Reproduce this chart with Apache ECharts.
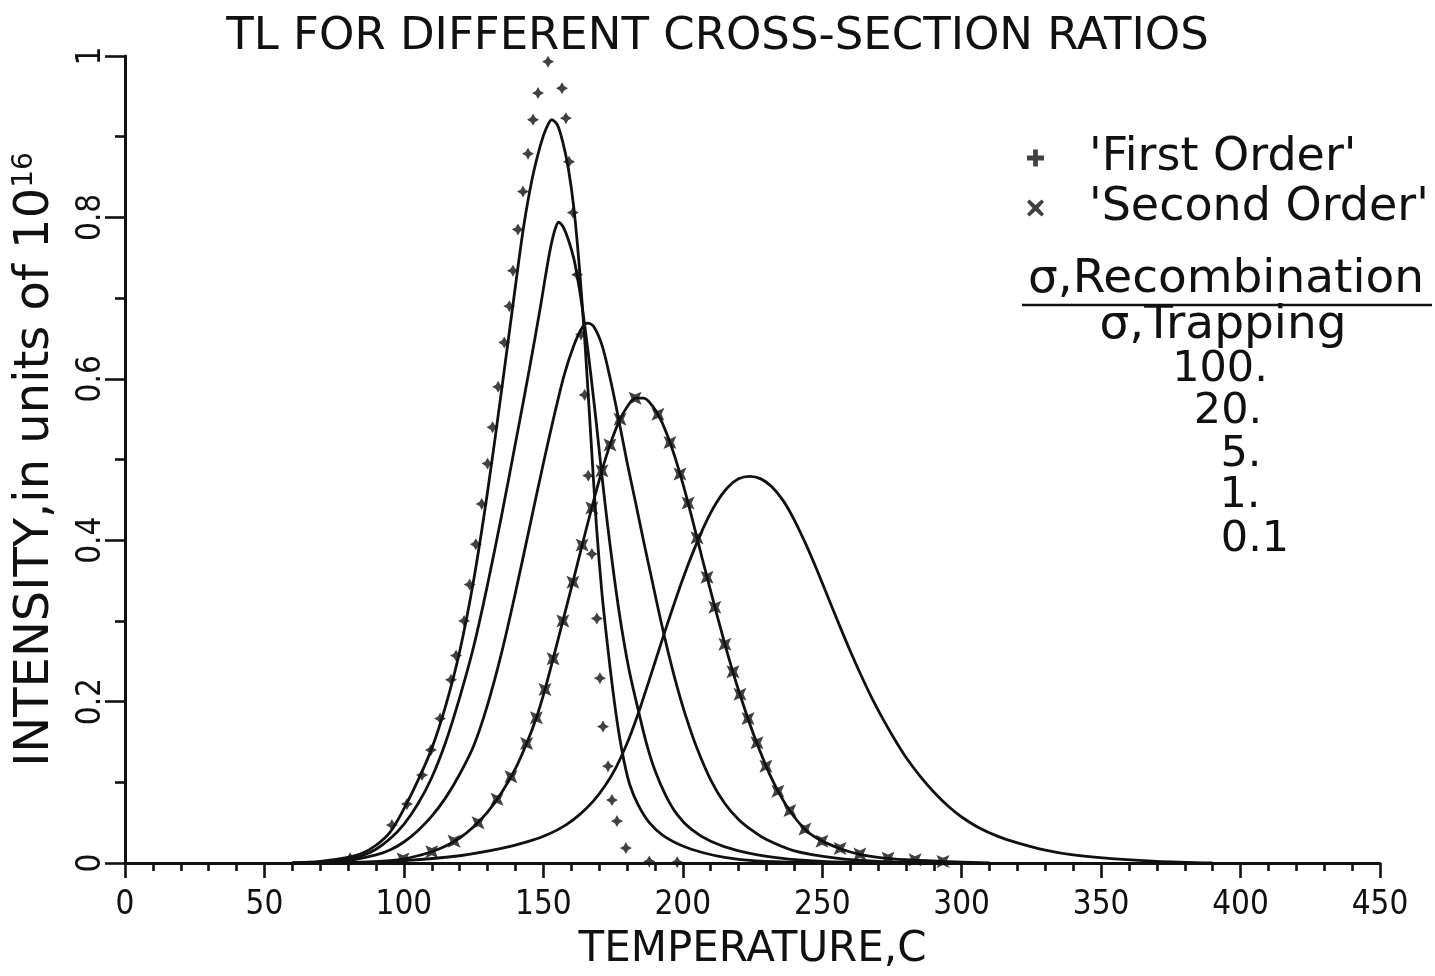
<!DOCTYPE html>
<html>
<head>
<meta charset="utf-8">
<script src="https://cdn.jsdelivr.net/npm/echarts@6/dist/echarts.min.js"></script>
<style>
  html, body { margin: 0; padding: 0; background: #ffffff; }
  #chart { width: 1435px; height: 976px; }
</style>
</head>
<body>
<div id="chart"></div>
<script>
// Thermoluminescence glow curves: [temperature °C, intensity in units of 1e16]
const ratio100 = [[60,0],[70,0.002],[80,0.007],[85,0.012],[90,0.022],[95,0.038],[100,0.067],[105,0.102],[110,0.142],[115,0.195],[120,0.262],[125,0.35],[130,0.46],[135,0.585],[140,0.715],[143,0.79],[146,0.848],[149,0.89],[151,0.91],[153,0.921],[155,0.915],[157,0.893],[159,0.86],[161,0.81],[163,0.735],[165,0.64],[167,0.53],[169,0.42],[171,0.335],[173,0.27],[175,0.212],[177,0.163],[179,0.125],[181,0.097],[184,0.072],[188,0.05],[193,0.034],[200,0.021],[207,0.013],[215,0.007],[225,0.003],[240,0.001],[260,0]];
const ratio20 = [[60,0],[70,0.001],[80,0.005],[85,0.009],[90,0.017],[95,0.03],[100,0.048],[105,0.073],[110,0.106],[115,0.15],[120,0.205],[125,0.268],[130,0.345],[135,0.43],[140,0.52],[145,0.612],[149,0.69],[152,0.752],[154,0.783],[155.5,0.794],[157,0.789],[159,0.772],[161,0.748],[163,0.71],[165,0.662],[167,0.606],[169,0.545],[171,0.48],[173,0.42],[175,0.365],[177,0.315],[179,0.272],[181,0.235],[184,0.19],[187,0.148],[190,0.115],[194,0.083],[198,0.06],[203,0.042],[210,0.027],[220,0.015],[235,0.006],[250,0.002],[270,0]];
const ratio5 = [[60,0],[80,0.003],[90,0.01],[95,0.016],[100,0.026],[105,0.04],[110,0.058],[115,0.081],[120,0.11],[125,0.145],[130,0.196],[135,0.26],[140,0.335],[145,0.415],[150,0.495],[154,0.556],[157.5,0.605],[161,0.642],[164,0.664],[166,0.669],[168,0.665],[171,0.642],[174,0.6],[177,0.55],[180,0.497],[183,0.448],[186,0.398],[189,0.35],[192,0.302],[195,0.258],[198,0.218],[201,0.183],[205,0.143],[210,0.103],[215,0.074],[220,0.054],[225,0.04],[230,0.029],[240,0.015],[255,0.006],[270,0.002],[290,0]];
const ratio1 = [[70,0],[85,0.001],[95,0.003],[100,0.005],[105,0.009],[110,0.014],[115,0.021],[120,0.031],[125,0.045],[130,0.063],[135,0.087],[140,0.117],[144,0.148],[147.5,0.18],[150.5,0.214],[153.5,0.253],[157,0.3],[160.5,0.347],[164,0.395],[167.5,0.442],[171,0.486],[174,0.519],[177,0.546],[180,0.565],[183,0.576],[186,0.576],[189,0.567],[192,0.55],[195,0.525],[198,0.494],[201,0.458],[204,0.418],[207,0.377],[210,0.337],[213,0.298],[216,0.26],[219,0.225],[222,0.193],[225,0.163],[228,0.136],[231,0.111],[234,0.09],[237,0.072],[240,0.057],[244,0.041],[248,0.031],[252,0.024],[257,0.017],[263,0.011],[270,0.007],[280,0.004],[293,0.002],[310,0]];
const ratio01 = [[80,0],[100,0.003],[120,0.009],[135,0.018],[145,0.027],[152,0.036],[158,0.047],[163,0.06],[168,0.077],[172,0.095],[176,0.118],[180,0.148],[184,0.185],[188,0.227],[192,0.27],[196,0.312],[200,0.352],[204,0.388],[208,0.42],[212,0.446],[216,0.465],[220,0.476],[224,0.479],[228,0.476],[232,0.466],[236,0.449],[240,0.425],[244,0.396],[248,0.364],[252,0.33],[256,0.296],[260,0.263],[264,0.232],[268,0.203],[272,0.177],[276,0.153],[280,0.131],[285,0.108],[290,0.088],[295,0.071],[300,0.057],[306,0.044],[313,0.033],[320,0.025],[330,0.016],[340,0.01],[355,0.005],[370,0.002],[390,0]];

// Analytic first- and second-order kinetics, plotted as symbols
const firstOrder = [[80.7,0.006],[95.7,0.047],[101.1,0.073],[106.5,0.109],[109.7,0.14],[113,0.179],[116.9,0.227],[118.7,0.257],[121.6,0.3],[123.6,0.345],[125.8,0.395],[127.9,0.445],[130,0.495],[131.8,0.54],[133.8,0.59],[136,0.645],[137.8,0.69],[139.1,0.734],[140.9,0.785],[142.7,0.832],[144.5,0.879],[146.3,0.921],[148.1,0.954],[151.7,0.993],[156.7,0.96],[158.1,0.923],[159.2,0.869],[160.6,0.806],[162.1,0.729],[163.5,0.655],[164.8,0.58],[166.1,0.48],[167.4,0.383],[169.2,0.303],[170.3,0.229],[171.4,0.169],[173.2,0.12],[174.6,0.078],[176.4,0.052],[179.6,0.0185],[188,0.002],[198,0.001]];
const secondOrder = [[99.7,0.005],[110,0.014],[118,0.027],[126.6,0.05],[133.4,0.079],[138.4,0.107],[144,0.148],[147.5,0.18],[150.6,0.215],[153.5,0.253],[157,0.3],[160.6,0.348],[163.9,0.394],[167.4,0.44],[171,0.486],[173.9,0.518],[177.5,0.55],[182.9,0.576],[191.1,0.556],[195.4,0.521],[199,0.482],[201.9,0.446],[205.1,0.403],[208.7,0.354],[211.5,0.317],[215.1,0.271],[218,0.237],[220.5,0.209],[223.4,0.179],[226.6,0.149],[229.8,0.12],[234.1,0.089],[238.4,0.065],[243.8,0.042],[249.9,0.027],[256.4,0.018],[263.5,0.011],[273.6,0.006],[283.3,0.004],[293.3,0.002]];

const ratioLabels = ['100.', '20.', '5.', '1.', '0.1'];

const INK = '#111111';
const FONT = "'DejaVu Sans', sans-serif";
const COND = "'DejaVu Sans Condensed', 'DejaVu Sans', sans-serif";

const PLUS_ICON = 'path://M3.6,0H6.4V3.6H10V6.4H6.4V10H3.6V6.4H0V3.6H3.6Z';
const CROSS_ICON = 'path://M1.4,0L5,3.2L8.6,0L10,1.4L6.8,5L10,8.6L8.6,10L5,6.8L1.4,10L0,8.6L3.2,5L0,1.4Z';
const STAR4 = 'path://M5,0L6.8,3.2L10,5L6.8,6.8L5,10L3.2,6.8L0,5L3.2,3.2Z';
const XSTAR = 'path://M0,0L5,2.2L10,0L7.8,5L10,10L5,7.8L0,10L2.2,5Z';

function curve(name, data) {
  return {
    name: name, type: 'line', data: data, smooth: 0.3,
    showSymbol: false, symbol: 'none',
    lineStyle: { color: INK, width: 2.8 }, z: 2
  };
}

const chart = echarts.init(document.getElementById('chart'));

// σ ratio key, drawn as a fraction with the ratios listed under it
const fractionRows = [
  { text: 'σ,Recombination', x: 1226, y: 280 },
  { text: 'σ,Trapping', x: 1223, y: 326 }
];
const valueY = [370, 412, 455, 496, 540];
const valueX = [1220, 1228, 1241, 1240, 1255];

const graphics = fractionRows.map(b => ({
  type: 'text', x: b.x, y: b.y,
  style: { text: b.text, fill: INK, font: '47px ' + FONT, textAlign: 'center', textVerticalAlign: 'middle' }
})).concat(ratioLabels.map((t, i) => ({
  type: 'text', x: valueX[i], y: valueY[i],
  style: { text: t, fill: INK, font: '43px ' + FONT, textAlign: 'center', textVerticalAlign: 'middle' }
}))).concat([{
  type: 'line', shape: { x1: 1022, y1: 305, x2: 1432, y2: 305 },
  style: { stroke: INK, lineWidth: 2.4 }
}]);

chart.setOption({
  animation: false,
  backgroundColor: '#ffffff',
  title: {
    text: 'TL FOR DIFFERENT CROSS-SECTION RATIOS',
    left: 'center', top: 10,
    textStyle: { color: INK, fontFamily: FONT, fontSize: 45, fontWeight: 'normal' }
  },
  legend: {
    orient: 'vertical', left: 1022, top: 130, itemGap: 4,
    itemWidth: 17, itemHeight: 17,
    data: [
      { name: 'First Order', icon: PLUS_ICON },
      { name: 'Second Order', icon: CROSS_ICON }
    ],
    formatter: n => "'" + n + "'",
    textStyle: { color: INK, fontFamily: FONT, fontSize: 46, padding: [0, 0, 0, 40] }
  },
  graphic: graphics,
  grid: { left: 125, right: 55, top: 56, bottom: 111 },
  xAxis: {
    type: 'value', min: 0, max: 450, interval: 50,
    name: 'TEMPERATURE,C', nameLocation: 'middle', nameGap: 66,
    nameTextStyle: { color: INK, fontFamily: FONT, fontSize: 42 },
    axisLine: { show: true, onZero: false, lineStyle: { color: INK, width: 3 } },
    axisTick: { show: true, inside: false, length: 15, lineStyle: { color: INK, width: 2.6 } },
    minorTick: { show: true, splitNumber: 5, length: 8, lineStyle: { color: INK, width: 2.6 } },
    axisLabel: { color: INK, fontFamily: COND, fontSize: 33, margin: 26 },
    splitLine: { show: false }
  },
  yAxis: {
    type: 'value', min: 0, max: 1, interval: 0.2,
    name: 'INTENSITY,in units of 10{sup|16}', nameLocation: 'middle', nameGap: 64, nameRotate: 90,
    nameTextStyle: {
      color: INK, fontFamily: FONT, fontSize: 48,
      rich: { sup: { fontFamily: FONT, fontSize: 28, verticalAlign: 'top', color: INK, padding: [0, 0, 22, 0] } }
    },
    axisLine: { show: true, onZero: false, lineStyle: { color: INK, width: 3 } },
    axisTick: { show: true, inside: false, length: 20, lineStyle: { color: INK, width: 2.6 } },
    minorTick: { show: true, splitNumber: 2, length: 10, lineStyle: { color: INK, width: 2.6 } },
    axisLabel: { color: INK, fontFamily: COND, fontSize: 33, margin: 17, rotate: 90 },
    splitLine: { show: false }
  },
  series: [
    curve('100', ratio100),
    curve('20', ratio20),
    curve('5', ratio5),
    curve('1', ratio1),
    curve('0.1', ratio01),
    {
      name: 'First Order', type: 'scatter', data: firstOrder,
      symbol: STAR4, symbolSize: 12, itemStyle: { color: INK }, z: 4
    },
    {
      name: 'Second Order', type: 'scatter', data: secondOrder,
      symbol: XSTAR, symbolSize: 13, itemStyle: { color: INK }, z: 4
    }
  ]
});
</script>
</body>
</html>
